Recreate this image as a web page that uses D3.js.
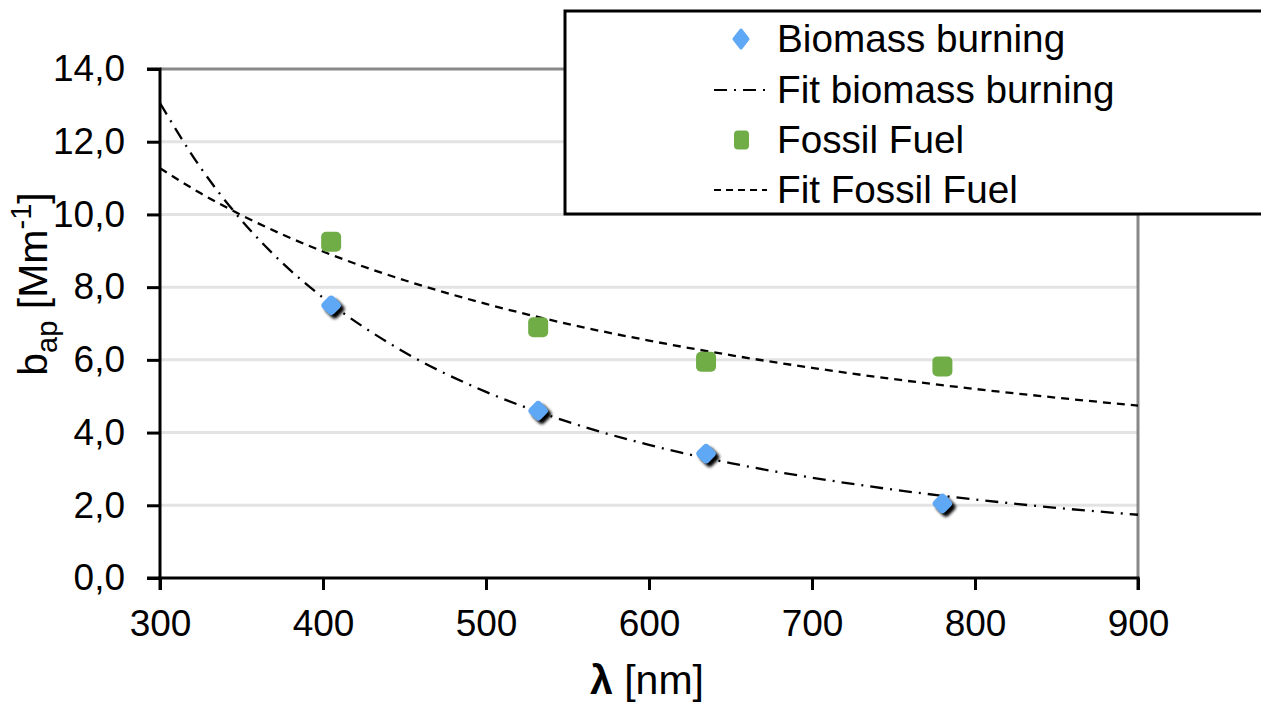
<!DOCTYPE html>
<html>
<head>
<meta charset="utf-8">
<script src="https://cdn.jsdelivr.net/npm/d3@7"></script>
<style>
  html, body { margin: 0; padding: 0; background: #fff; }
  svg { display: block; font-family: "Liberation Sans", Arial, sans-serif; }
</style>
</head>
<body>
<svg id="chart" width="1261" height="704"></svg>
<script>
// ---- data ----
const wavelengths = [405, 532, 635, 780];
const biomassValues = [7.5, 4.6, 3.42, 2.05];
const fossilValues = [9.25, 6.9, 5.95, 5.82];

const fitWavelengths = [300, 325, 350, 375, 400, 450, 500, 550, 600, 650, 700, 750, 800, 850, 900];
const fitBiomassValues = [13.06, 11.28, 9.84, 8.67, 7.71, 6.21, 5.12, 4.30, 3.66, 3.16, 2.76, 2.43, 2.16, 1.93, 1.74];
const fitFossilValues = [11.27, 10.58, 9.98, 9.45, 8.98, 8.19, 7.54, 6.99, 6.53, 6.13, 5.78, 5.47, 5.20, 4.96, 4.74];

const xTicks = [300, 400, 500, 600, 700, 800, 900];
const yTicks = [0, 2, 4, 6, 8, 10, 12, 14];
const legendLabels = ["Biomass burning", "Fit biomass burning", "Fossil Fuel", "Fit Fossil Fuel"];

// ---- layout ----
const svg = d3.select("#chart");
const L = 160, R = 1138, T = 69, B = 578;
const x = d3.scaleLinear().domain([300, 900]).range([L, R]);
const y = d3.scaleLinear().domain([0, 14]).range([B, T]);
const blue = "#5fa8f6", green = "#70ad47";
const FS = 37;

const defs = svg.append("defs");
const f = defs.append("filter").attr("id", "shadow").attr("x", "-50%").attr("y", "-50%").attr("width", "200%").attr("height", "200%");
f.append("feGaussianBlur").attr("stdDeviation", 1.4);

// gridlines
svg.append("g").selectAll("line").data(yTicks.filter(d => d > 0 && d < 14)).join("line")
  .attr("x1", L).attr("x2", R).attr("y1", d => y(d)).attr("y2", d => y(d))
  .attr("stroke", "#e3e3e3").attr("stroke-width", 3);

// top and right plot borders (gray)
svg.append("line").attr("x1", L).attr("x2", R + 1).attr("y1", T).attr("y2", T).attr("stroke", "#888").attr("stroke-width", 3);
svg.append("line").attr("x1", R).attr("x2", R).attr("y1", T).attr("y2", B).attr("stroke", "#888").attr("stroke-width", 3);

// axes
const fmt = d => d3.format(".1f")(d).replace(".", ",");
const yAxis = svg.append("g").attr("transform", `translate(${L},0)`)
  .call(d3.axisLeft(y).tickValues(yTicks).tickFormat(fmt).tickSize(13).tickPadding(22));
const xAxis = svg.append("g").attr("transform", `translate(0,${B})`)
  .call(d3.axisBottom(x).tickValues(xTicks).tickSize(12).tickPadding(20));
[yAxis, xAxis].forEach(a => {
  a.select(".domain").attr("stroke", "#000").attr("stroke-width", 3);
  a.selectAll(".tick line").attr("stroke", "#000").attr("stroke-width", 3);
  a.selectAll(".tick text").attr("fill", "#000").style("font-size", FS + "px")
    .style("font-family", '"Liberation Sans", Arial, sans-serif');
});
yAxis.select(".domain").attr("d", `M-13,${B}H0V${T}H-13`);
xAxis.select(".domain").attr("d", `M${L},12V0H${R}V12`);

// fit lines
const lineGen = (vals) => d3.line().x((d, i) => x(fitWavelengths[i])).y(d => y(d)).curve(d3.curveMonotoneX)(vals);
svg.append("path").attr("d", lineGen(fitBiomassValues)).attr("fill", "none")
  .attr("stroke", "#000").attr("stroke-width", 2.3).attr("stroke-dasharray", "13,7,2,7");
svg.append("path").attr("d", lineGen(fitFossilValues)).attr("fill", "none")
  .attr("stroke", "#000").attr("stroke-width", 2.3).attr("stroke-dasharray", "8,6");

// fossil markers
const fData = wavelengths.map((w, i) => ({ w, v: fossilValues[i] }));
svg.append("g").selectAll("rect").data(fData).join("rect")
  .attr("x", d => x(d.w) - 10).attr("y", d => y(d.v) - 10)
  .attr("width", 20).attr("height", 20).attr("rx", 5).attr("fill", green);

// biomass markers with shadow
const bData = wavelengths.map((w, i) => ({ w, v: biomassValues[i] }));
const bg = svg.append("g");
bg.selectAll("rect.sh").data(bData).join("rect").attr("class", "sh")
  .attr("x", -8).attr("y", -8).attr("width", 16).attr("height", 16).attr("rx", 4)
  .attr("transform", d => `translate(${x(d.w) + 3.5},${y(d.v) + 3.5}) rotate(45)`)
  .attr("fill", "#000").attr("filter", "url(#shadow)");
bg.selectAll("rect.pt").data(bData).join("rect").attr("class", "pt")
  .attr("x", -8).attr("y", -8).attr("width", 16).attr("height", 16).attr("rx", 4)
  .attr("transform", d => `translate(${x(d.w)},${y(d.v)}) rotate(45)`)
  .attr("fill", blue);

// legend
const lg = svg.append("g");
lg.append("rect").attr("x", 565).attr("y", 11).attr("width", 760).attr("height", 203)
  .attr("fill", "#fff").attr("stroke", "#000").attr("stroke-width", 3);
const rowY = [39, 90, 140, 190];
lg.selectAll("text").data(legendLabels).join("text")
  .attr("x", 777).attr("y", (d, i) => rowY[i] + 13)
  .style("font-size", "38.7px").attr("fill", "#000").text(d => d);
// legend symbols
lg.append("path").attr("d", `M741,${rowY[0] - 9} L748,${rowY[0]} L741,${rowY[0] + 9} L734,${rowY[0]} Z`)
  .attr("fill", blue).attr("stroke", blue).attr("stroke-width", 3).attr("stroke-linejoin", "round");
lg.append("line").attr("x1", 714).attr("x2", 765).attr("y1", rowY[1]).attr("y2", rowY[1])
  .attr("stroke", "#000").attr("stroke-width", 2).attr("stroke-dasharray", "13,7,2,7");
lg.append("rect").attr("x", 734).attr("y", rowY[2] - 9.5).attr("width", 15).attr("height", 19).attr("rx", 4).attr("fill", green);
lg.append("line").attr("x1", 714).attr("x2", 767).attr("y1", rowY[3]).attr("y2", rowY[3])
  .attr("stroke", "#000").attr("stroke-width", 2).attr("stroke-dasharray", "7,5");

// axis titles
const xt = svg.append("text").attr("x", 647).attr("y", 694).attr("text-anchor", "middle")
  .style("font-size", "41px").attr("fill", "#000");
xt.append("tspan").attr("font-weight", "bold").text("λ");
xt.append("tspan").text(" [nm]");

const yt = svg.append("text").attr("transform", "translate(47,284) rotate(-90)").attr("text-anchor", "middle")
  .style("font-size", "41px").attr("fill", "#000");
yt.append("tspan").text("b");
yt.append("tspan").attr("dy", 10).style("font-size", "29px").text("ap");
yt.append("tspan").attr("dy", -10).text(" [Mm");
yt.append("tspan").attr("dy", -16).style("font-size", "29px").text("-1");
yt.append("tspan").attr("dy", 16).text("]");
</script>
</body>
</html>
